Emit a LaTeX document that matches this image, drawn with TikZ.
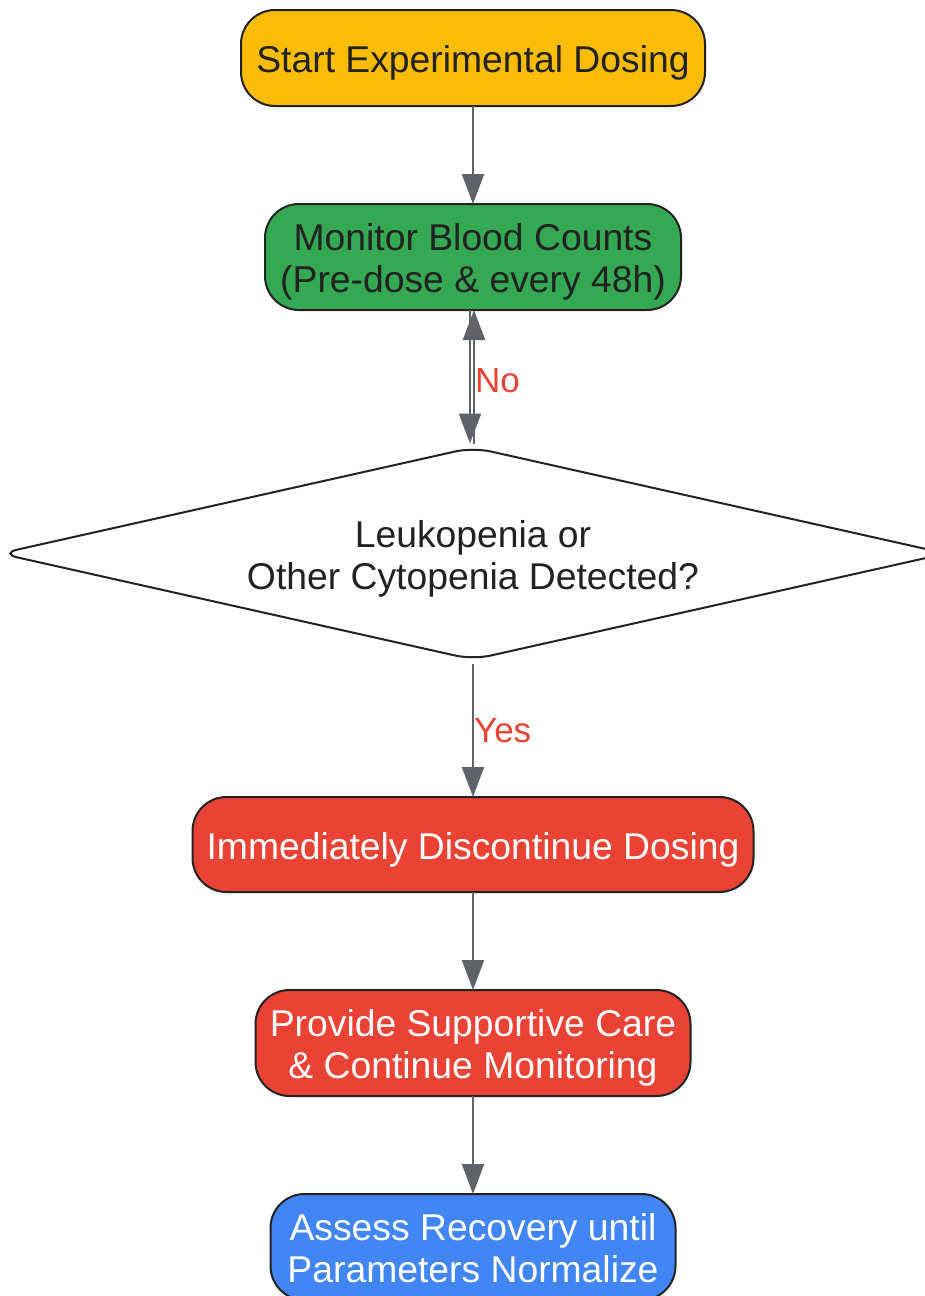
\documentclass[tikz,border=0pt]{standalone}
\usepackage{fontspec}
\setmainfont{Liberation Sans}
\usepackage{xcolor}
\usetikzlibrary{shapes.geometric, arrows.meta, positioning}
\definecolor{startfill}{HTML}{FBBC05}
\definecolor{monitorfill}{HTML}{34A853}
\definecolor{alertfill}{HTML}{EA4335}
\definecolor{recoverfill}{HTML}{4285F4}
\definecolor{edgegray}{HTML}{5F6368}
\definecolor{inkdark}{HTML}{222222}
\tikzset{block/.style={rectangle,draw=inkdark,line width=2pt,outer sep=0pt,rounded corners=34pt,align=center,inner sep=0pt,text=inkdark,font=\fontsize{37.3}{42}\selectfont},
         decision/.style={diamond,draw=inkdark,line width=2pt,outer sep=0pt,rounded corners=18pt,aspect=4.5,align=center,inner sep=0pt,text=inkdark,font=\fontsize{37.3}{42}\selectfont,minimum width=946pt,minimum height=212pt},
         oneline/.style={text height=37pt,text depth=8pt},
         twoline/.style={text height=79pt,text depth=8pt},
         edgelabel/.style={text=alertfill,inner sep=0pt,anchor=west,font=\fontsize{35}{42}\selectfont},
         arrow/.style={-{Triangle[length=30pt,width=22pt]},line width=2.2pt,edgegray}}

\begin{document}
\begin{tikzpicture}[x=1pt,y=-1pt,node distance=98pt]
    \useasboundingbox (0,0) rectangle (925,1296);
    \node (start) [block, oneline, fill=startfill, minimum width=464pt, minimum height=96pt] at (473,58) {Start Experimental Dosing};
    \node (monitor) [block, twoline, fill=monitorfill, minimum width=416pt, minimum height=106pt, below=of start] {Monitor Blood Counts\\(Pre-dose \& every 48h)};
    \node (check) [decision, twoline, fill=white, below=137.5pt of monitor] {Leukopenia or\\Other Cytopenia Detected?};
    \node (stop) [block, oneline, fill=alertfill, text=white, minimum width=561pt, minimum height=95pt, below=137.5pt of check] {Immediately Discontinue Dosing};
    \node (care) [block, twoline, fill=alertfill, text=white, minimum width=435pt, minimum height=106pt, below=of stop] {Provide Supportive Care\\\& Continue Monitoring};
    \node (recovery) [block, twoline, fill=recoverfill, text=white, minimum width=405pt, minimum height=106pt, below=of care] {Assess Recovery until\\Parameters Normalize};
    \foreach \i/\j in {start/monitor,stop/care,care/recovery} {\draw[arrow] (\i) -- (\j);}
    \draw[arrow] ([xshift=-3pt]monitor.south) -- ([xshift=-3pt,yshift=4pt]check.north);
    \draw[arrow] ([xshift=1pt,yshift=4pt]check.north) -- node[edgelabel, yshift=-4pt] {No} ([xshift=1pt]monitor.south);
    \draw[arrow] ([yshift=-4pt]check.south) -- node[edgelabel] {Yes} (stop);
  \end{tikzpicture}
\end{document}
